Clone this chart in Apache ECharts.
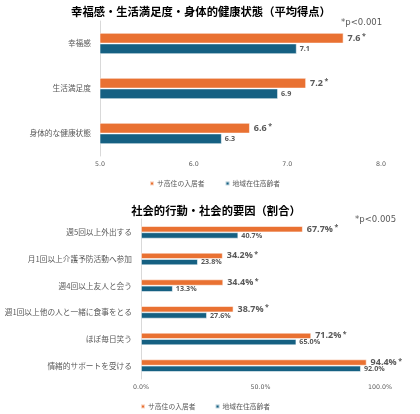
<!DOCTYPE html>
<html><head><meta charset="utf-8">
<script src="https://cdn.jsdelivr.net/npm/echarts@6/dist/echarts.min.js"></script>
<style>html,body{margin:0;padding:0;background:#fff}#c{width:420px;height:414px}</style>
</head><body><div id="c"></div>
<script>
const seriesNames = ['サ高住の入居者', '地域在住高齢者'];
const topCategories = ['幸福感', '生活満足度', '身体的な健康状態'];
const topResidents = [7.6, 7.2, 6.6];
const topCommunity = [7.1, 6.9, 6.3];
const topTicks = ['5.0', '6.0', '7.0', '8.0'];
const bottomCategories = ['週5回以上外出する', '月1回以上介護予防活動へ参加', '週4回以上友人と会う', '週1回以上他の人と一緒に食事をとる', 'ほぼ毎日笑う', '情緒的サポートを受ける'];
const bottomResidents = [67.7, 34.2, 34.4, 38.7, 71.2, 94.4];
const bottomCommunity = [40.7, 23.8, 13.3, 27.6, 65.0, 92.0];
const bottomTicks = ['0.0%', '50.0%', '100.0%'];
const titles = ['幸福感・生活満足度・身体的健康状態（平均得点）', '社会的行動・社会的要因（割合）'];
const notes = ['*p<0.001', '*p<0.005'];

const ORANGE = '#E97132', BLUE = '#156082', GRAY = '#595959';
const FONT = '"DejaVu Sans", "Noto Sans CJK JP", sans-serif';
const NFONT = '"Open Sans", "DejaVu Sans", sans-serif';
const JFONT = '"Noto Sans CJK JP", sans-serif';

const chart = echarts.init(document.getElementById('c'), null, {renderer: 'canvas'});

function starLabel(fmt) {
  return {
    show: true, position: 'right', distance: 4,
    formatter: p => '{a|' + fmt(p.value) + '}{s|*}',
    rich: {
      a: {fontFamily: NFONT, fontSize: 9, fontWeight: 'bold', color: GRAY},
      s: {fontFamily: NFONT, fontSize: 7, fontWeight: 'bold', color: GRAY, padding: [0, 0, 4, 1.5]}
    }
  };
}
function smallLabel(fmt) {
  return {
    show: true, position: 'right', distance: 3,
    formatter: p => fmt(p.value),
    fontFamily: NFONT, fontSize: 7.2, fontWeight: 'bold', color: GRAY
  };
}
const f1 = v => v.toFixed(1);
const fp = v => v.toFixed(1) + '%';
const barStyle = c => ({color: c, borderColor: 'rgba(255,255,255,0.7)', borderWidth: 0.8});

chart.setOption({
  animation: false,
  textStyle: {fontFamily: FONT},
  title: [
    {text: titles[0], left: 196, top: 1, textAlign: 'center',
     textStyle: {fontFamily: JFONT, fontSize: 11.3, fontWeight: 'bold', color: '#000'}},
    {text: titles[1], left: 211, top: 200, textAlign: 'center',
     textStyle: {fontFamily: JFONT, fontSize: 11.3, fontWeight: 'bold', color: '#000'}},
    {text: notes[0], left: 336, top: 14, textStyle: {fontFamily: FONT, fontSize: 8.5, fontWeight: 'normal', color: GRAY}},
    {text: notes[1], left: 350, top: 211, textStyle: {fontFamily: FONT, fontSize: 8.5, fontWeight: 'normal', color: GRAY}}
  ],
  legend: [
    {data: seriesNames, left: 144, top: 175, itemWidth: 4, itemHeight: 4, itemGap: 20, icon: 'rect',
     textStyle: {fontFamily: JFONT, fontSize: 6.8, color: GRAY, padding: [0, 0, 0, -2]}},
    {data: seriesNames, left: 135, top: 398, itemWidth: 4, itemHeight: 4, itemGap: 19, icon: 'rect',
     textStyle: {fontFamily: JFONT, fontSize: 6.8, color: GRAY, padding: [0, 0, 0, -2]}}
  ],
  grid: [
    {left: 100, right: 39, top: 21, height: 135},
    {left: 141, right: 40, top: 219, height: 160}
  ],
  xAxis: [
    {gridIndex: 0, type: 'value', min: 5, max: 8, interval: 1,
     axisLine: {show: false}, axisTick: {show: false}, splitLine: {show: false},
     axisLabel: {fontFamily: FONT, fontSize: 6.3, color: GRAY, margin: 5,
                 formatter: v => topTicks[Math.round(v - 5)]}},
    {gridIndex: 1, type: 'value', min: 0, max: 100, interval: 50,
     axisLine: {show: false}, axisTick: {show: false}, splitLine: {show: false},
     axisLabel: {fontFamily: FONT, fontSize: 6.3, color: GRAY, margin: 5,
                 formatter: v => bottomTicks[Math.round(v / 50)]}}
  ],
  yAxis: [
    {gridIndex: 0, type: 'category', data: topCategories, inverse: true,
     axisLine: {show: true, lineStyle: {color: '#D9D9D9', width: 1}}, axisTick: {show: false},
     axisLabel: {fontFamily: JFONT, fontSize: 7.7, color: GRAY, margin: 9}},
    {gridIndex: 1, type: 'category', data: bottomCategories, inverse: true,
     axisLine: {show: true, lineStyle: {color: '#D9D9D9', width: 1}}, axisTick: {show: false},
     axisLabel: {fontFamily: JFONT, fontSize: 7.7, color: GRAY, margin: 9}}
  ],
  series: [
    {name: seriesNames[0], type: 'bar', xAxisIndex: 0, yAxisIndex: 0, data: topResidents,
     barGap: '0%', barCategoryGap: '53%', itemStyle: barStyle(ORANGE), label: starLabel(f1)},
    {name: seriesNames[1], type: 'bar', xAxisIndex: 0, yAxisIndex: 0, data: topCommunity,
     barGap: '0%', barCategoryGap: '53%', itemStyle: barStyle(BLUE), label: smallLabel(f1)},
    {name: seriesNames[0], type: 'bar', xAxisIndex: 1, yAxisIndex: 1, data: bottomResidents,
     barGap: '0%', barCategoryGap: '53%', itemStyle: barStyle(ORANGE), label: starLabel(fp)},
    {name: seriesNames[1], type: 'bar', xAxisIndex: 1, yAxisIndex: 1, data: bottomCommunity,
     barGap: '0%', barCategoryGap: '53%', itemStyle: barStyle(BLUE), label: smallLabel(fp)}
  ]
});
</script></body></html>
